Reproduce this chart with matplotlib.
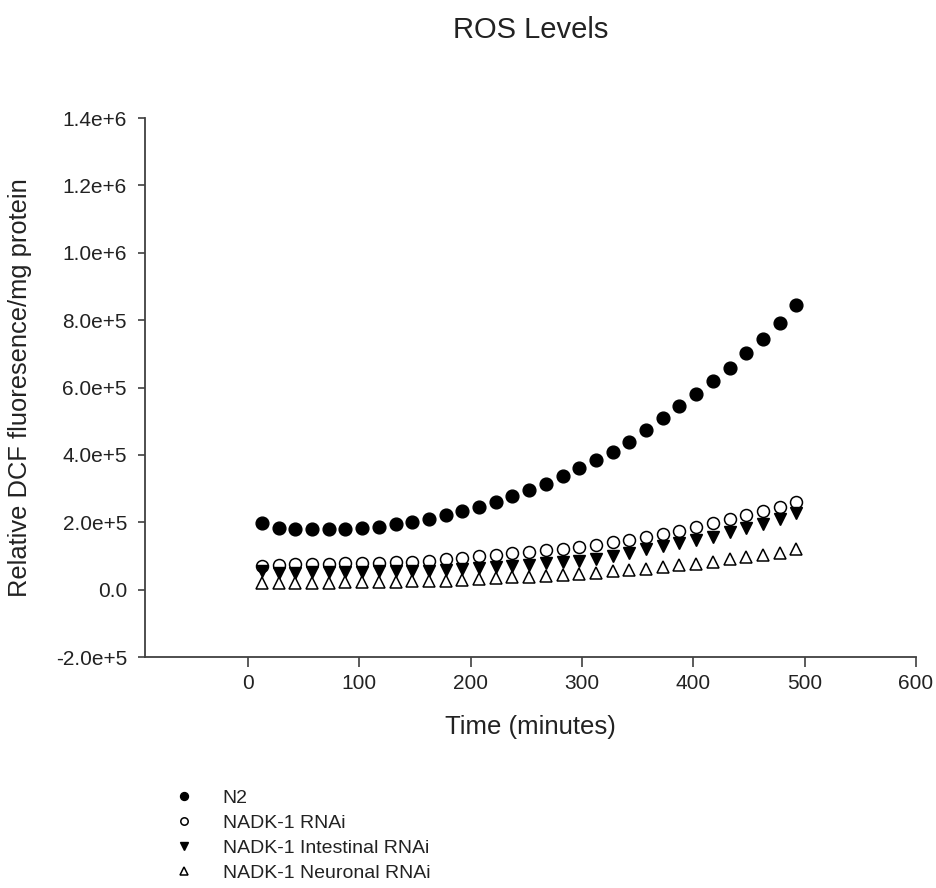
import matplotlib
matplotlib.use("Agg")
import matplotlib.pyplot as plt

plt.rcParams['font.family'] = ['Liberation Sans', 'DejaVu Sans']

time_min = [12.5, 27.5, 42.5, 57.5, 72.5, 87.5, 102.5, 117.5, 132.5, 147.5, 162.5,
            177.5, 192.5, 207.5, 222.5, 237.5, 252.5, 267.5, 282.5, 297.5, 312.5,
            327.5, 342.5, 357.5, 372.5, 387.5, 402.5, 417.5, 432.5, 447.5, 462.5,
            477.5, 492.5]

n2 = [197000, 182000, 179000, 179000, 179000, 180000, 182000, 187000, 195000, 201000,
      209000, 222000, 233000, 246000, 261000, 278000, 296000, 315000, 337000, 360000,
      385000, 410000, 439000, 474000, 508000, 546000, 582000, 619000, 657000, 701000,
      744000, 790000, 845000]

nadk_rnai = [70000, 74000, 75000, 76000, 77000, 78000, 79000, 80000, 81000, 83000,
             85000, 90000, 95000, 100000, 103000, 108000, 113000, 118000, 122000, 126000,
             132000, 140000, 147000, 155000, 165000, 175000, 186000, 197000, 209000, 221000,
             232000, 246000, 260000]

nadk_intestinal = [55000, 50000, 50000, 51000, 52000, 52000, 53000, 54000, 55000, 55000,
                   56000, 58000, 60000, 63000, 66000, 70000, 73000, 78000, 81000, 86000,
                   92000, 100000, 108000, 120000, 129000, 137000, 147000, 157000, 170000, 182000,
                   195000, 209000, 228000]

nadk_neuronal = [20000, 20000, 20000, 21000, 21000, 22000, 22000, 23000, 24000, 25000,
                 26000, 27000, 30000, 32000, 34000, 36000, 38000, 40000, 43000, 46000,
                 50000, 54000, 58000, 62000, 67000, 72000, 77000, 83000, 90000, 96000,
                 103000, 110000, 120000]

series_labels = ["N2", "NADK-1 RNAi", "NADK-1 Intestinal RNAi", "NADK-1 Neuronal RNAi"]

x_ticks = [0, 100, 200, 300, 400, 500, 600]
y_ticks = [-200000, 0, 200000, 400000, 600000, 800000, 1000000, 1200000, 1400000]
y_tick_labels = ["-2.0e+5", "0.0", "2.0e+5", "4.0e+5", "6.0e+5", "8.0e+5",
                 "1.0e+6", "1.2e+6", "1.4e+6"]

W, H = 937, 888
AX_L, AX_R, AX_T, AX_B = 145, 916, 118, 657
fig = plt.figure(figsize=(W / 100, H / 100), dpi=100)
ax = fig.add_axes([AX_L / W, 1 - AX_B / H, (AX_R - AX_L) / W, (AX_B - AX_T) / H])

axis_col = '#404040'
text_col = '#222222'

h1, = ax.plot(time_min, n2, linestyle='none', marker='o', ms=9.2,
              mfc='black', mec='black', label=series_labels[0])
h2, = ax.plot(time_min, nadk_rnai, linestyle='none', marker='o', ms=8.6,
              mfc='white', mec='black', mew=1.1, label=series_labels[1])
h3, = ax.plot(time_min, nadk_intestinal, linestyle='none', marker='v', ms=9.0,
              mfc='black', mec='black', label=series_labels[2])
h4, = ax.plot(time_min, nadk_neuronal, linestyle='none', marker='^', ms=8.8,
              mfc='white', mec='black', mew=1.1, label=series_labels[3])

ax.set_xlim(-92.5, 600)
ax.set_ylim(-200000, 1400000)
ax.set_xticks(x_ticks)
ax.set_xticklabels([str(t) for t in x_ticks])
ax.set_yticks(y_ticks)
ax.set_yticklabels(y_tick_labels)

for s in ['top', 'right']:
    ax.spines[s].set_visible(False)
for s in ['left', 'bottom']:
    ax.spines[s].set_color(axis_col)
    ax.spines[s].set_linewidth(1.3)

ax.tick_params(axis='y', direction='out', length=5, width=1.2, color=axis_col,
               labelsize=15, labelcolor=text_col, pad=8)
ax.tick_params(axis='x', direction='out', length=7, width=1.2, color=axis_col,
               labelsize=15, labelcolor=text_col, pad=5)

ax.set_xlabel("Time (minutes)", fontsize=18.5, color=text_col)
ax.xaxis.set_label_coords(0.5, (AX_B - 727) / (AX_B - AX_T))
ax.xaxis.label.set_va('center')
ax.set_ylabel("Relative DCF fluoresence/mg protein", fontsize=18.4, color=text_col)
ax.yaxis.set_label_coords((20 - AX_L) / (AX_R - AX_L), 0.5)
ax.yaxis.label.set_va('center')

fig.text(531 / W, 1 - 30 / H, "ROS Levels", ha='center', va='center',
         fontsize=21, color=text_col)

leg = fig.legend(handles=[h1, h2, h3, h4], loc='upper left',
                 bbox_to_anchor=(174 / W, 1 - 789 / H), frameon=False,
                 fontsize=14, markerscale=0.62, handlelength=1.0,
                 handletextpad=1.5, labelspacing=0.38, borderpad=0, borderaxespad=0)
for t in leg.get_texts():
    t.set_color(text_col)

fig.savefig("out.png", dpi=100)
